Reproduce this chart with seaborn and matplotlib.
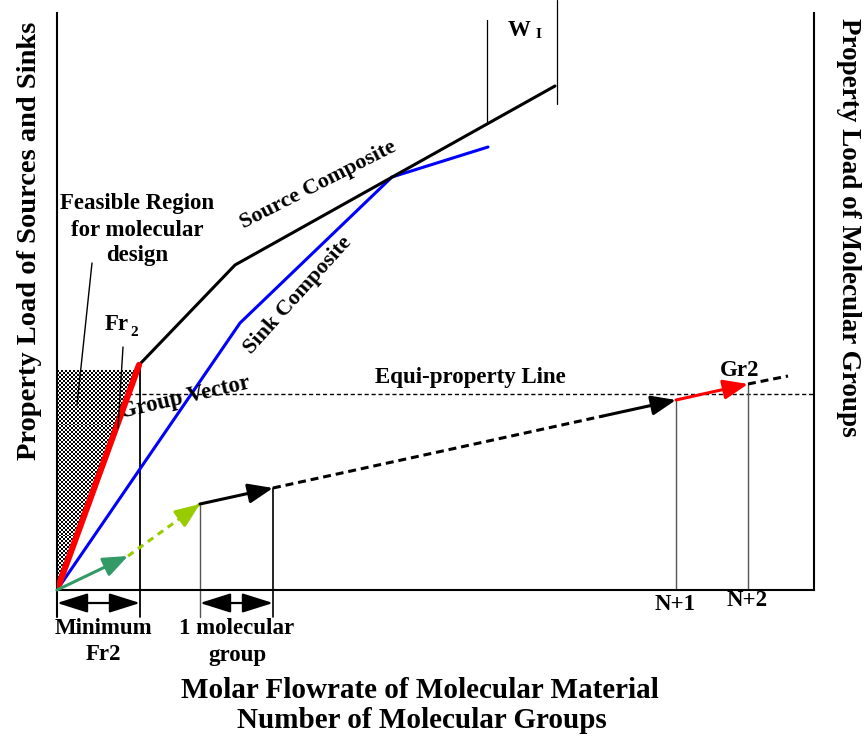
import numpy as np
import matplotlib
matplotlib.use("Agg")
import matplotlib.pyplot as plt
from matplotlib.patches import Polygon
import seaborn as sns

# ---- diagram data (flowrate units on x, property load on y) ----
fr2_x = [0, 82]                      # minimum Fr2 segment
fr2_y = [0, 225]
source_x = [82, 178, 498]            # source composite
source_y = [225, 325, 504]
sink_x = [0, 183, 335, 431]          # sink composite
sink_y = [0, 267, 413, 443]
group_x = [0, 71, 143, 216, 546, 619, 691, 731]   # group vector chain
group_y = [0, 34, 86, 102, 174, 190, 206, 214]
equi_y = 196                         # equi-property load
equi_x = [71, 757]
fr2_mark = 83                        # minimum Fr2 position
wi_x = [430, 500]                    # W_I bracket
wi_top = [570, 590]
wi_bot = [468, 486]
feasible_top = 220
x_max, y_max = 757, 577
dim_y = -13
ext_y = -27

sns.set_theme(style="white")
plt.rcParams["font.family"] = ["Liberation Serif", "DejaVu Serif"]
plt.rcParams["font.weight"] = "bold"
plt.rcParams["text.color"] = "black"

fig = plt.figure(figsize=(8.64, 7.40), dpi=100)
ax = fig.add_axes([57 / 864, 150 / 740, 757 / 864, 577 / 740])
ax.set_xlim(0, x_max)
ax.set_ylim(0, y_max)
ax.set_xticks([])
ax.set_yticks([])
for side in ("left", "right", "bottom"):
    ax.spines[side].set_visible(True)
    ax.spines[side].set_color("black")
    ax.spines[side].set_linewidth(1.5)
ax.spines["top"].set_visible(False)

# feasible region: checkered texture bounded by the Fr2 line
slope = fr2_y[1] / fr2_x[1]
poly = Polygon([(0, 0), (0, feasible_top), (feasible_top / slope, feasible_top)],
               closed=True, transform=ax.transData, facecolor="none", edgecolor="none")
ax.add_patch(poly)
ny, nx = 111, 42
ii, jj = np.indices((ny, nx))
checker = ((ii + jj) % 2).astype(float)
img = ax.imshow(checker, cmap="gray", interpolation="nearest", origin="lower",
                extent=[0, 84, 0, feasible_top], aspect="auto", zorder=1, vmin=0, vmax=1)
img.set_clip_path(poly)
ax.set_xlim(0, x_max)
ax.set_ylim(0, y_max)

# composites
sns.lineplot(x=sink_x, y=sink_y, color="#0000ff", lw=2.2, sort=False, estimator=None, ax=ax, zorder=3)
sns.lineplot(x=source_x, y=source_y, color="black", lw=2.2, sort=False, estimator=None, ax=ax, zorder=3)
sns.lineplot(x=fr2_x, y=fr2_y, color="#ff0000", lw=4.5, sort=False, estimator=None, ax=ax,
             zorder=4, solid_capstyle="round")

# equi-property line
ax.plot(equi_x, [equi_y, equi_y], color="black", lw=1.0, ls=(0, (3, 2)), zorder=2)

# vertical markers
ax.plot([fr2_mark, fr2_mark], [ext_y, fr2_y[1]], color="black", lw=1.3, clip_on=False, zorder=2)
ax.plot([0, 0], [ext_y, 0], color="black", lw=1.5, clip_on=False)
ax.plot([group_x[2]] * 2, [ext_y, group_y[2]], color="#555555", lw=1.0, clip_on=False)
ax.plot([group_x[3]] * 2, [ext_y, group_y[3]], color="black", lw=1.2, clip_on=False)
ax.plot([group_x[5]] * 2, [0, group_y[5]], color="#555555", lw=1.0)
ax.plot([group_x[6]] * 2, [0, group_y[6]], color="#555555", lw=1.0)
for xw, yb, yt in zip(wi_x, wi_bot, wi_top):
    ax.plot([xw, xw], [yb, yt], color="black", lw=0.9, clip_on=False)

# pointer lines
ax.plot([35, 20], [327, 185], color="black", lw=1.0, zorder=5)
ax.plot([66, 61], [243, 162], color="black", lw=1.0, zorder=5)


def head(tail, tip, color):
    ax.annotate("", xy=tip, xytext=tail,
                arrowprops=dict(arrowstyle="-|>,head_length=0.75,head_width=0.3",
                                color=color, lw=2.2, shrinkA=0, shrinkB=0,
                                mutation_scale=20), zorder=6)


# group vector chain
gx, gy = group_x, group_y
head((gx[0], gy[0]), (gx[1], gy[1]), "#339966")
ax.plot(gx[1:3], gy[1:3], color="#99cc00", lw=2.2, ls=(0, (2.2, 1.8)), zorder=5)
head((gx[2] - 0.2 * (gx[2] - gx[1]), gy[2] - 0.2 * (gy[2] - gy[1])), (gx[2], gy[2]), "#99cc00")
head((gx[2], gy[2]), (gx[3], gy[3]), "black")
ax.plot(gx[3:5], gy[3:5], color="black", lw=2.2, ls=(0, (2.6, 1.6)), zorder=5)
head((gx[4], gy[4]), (gx[5], gy[5]), "black")
head((gx[5], gy[5]), (gx[6], gy[6]), "#ff0000")
ax.plot(gx[6:8], gy[6:8], color="black", lw=2.2, ls=(0, (2.6, 1.6)), zorder=5)

# dimension arrows
for a, b in [(0, fr2_mark), (group_x[2], group_x[3])]:
    ax.annotate("", xy=(b, dim_y), xytext=(a, dim_y), annotation_clip=False,
                arrowprops=dict(arrowstyle="<|-|>,head_length=0.95,head_width=0.3",
                                color="black", lw=1.6, shrinkA=0, shrinkB=0,
                                mutation_scale=20))

small = dict(fontsize=16.5, fontweight="bold", ha="center", va="center", clip_on=False)
ax.text(80, 386, "Feasible Region", **small)
ax.text(80, 360, "for molecular", **small)
ax.text(80, 334, "design", **small)
ax.text(60, 265, "Fr", **small)
ax.text(77, 258, "2", fontsize=11, fontweight="bold", ha="center", va="center")
ax.text(462, 560, "W", **small)
ax.text(481, 555, "I", fontsize=11, fontweight="bold", ha="center", va="center", clip_on=False)
ax.text(261, 405, "Source Composite", rotation=27, rotation_mode="anchor",
        **{**small, "fontsize": 16})
ax.text(241, 295, "Sink Composite", rotation=48, rotation_mode="anchor",
        **{**small, "fontsize": 16})
ax.text(413, 213, "Equi-property Line", **small)
ax.text(683, 219, "Gr2", **small)
ax.text(128, 192, "Group Vector", rotation=13, rotation_mode="anchor", **small)
ax.text(46, -39, "Minimum", **small)
ax.text(46, -65, "Fr2", **small)
ax.text(180, -39, "1 molecular", **small)
ax.text(180, -65, "group", **small)
ax.text(618, -14, "N+1", **small)
ax.text(690, -10, "N+2", **small)

big = dict(fontweight="bold", ha="center", va="center", clip_on=False)
ax.text(363, -100, "Molar Flowrate of Molecular Material", fontsize=21, **big)
ax.text(365, -131, "Number of Molecular Groups", fontsize=21, **big)
ax.text(-27, 349, "Property Load of Sources and Sinks", rotation=90, fontsize=20.5, **big)
ax.text(791, 363, "Property Load of Molecular Groups", rotation=-90, fontsize=19.5, **big)

fig.savefig("out.png", dpi=100)
